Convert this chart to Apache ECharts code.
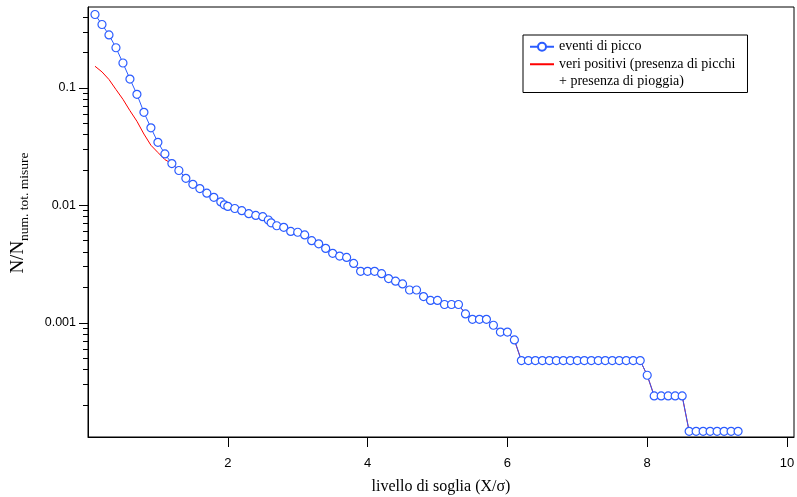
<!DOCTYPE html>
<html><head><meta charset="utf-8">
<script src="https://cdn.jsdelivr.net/npm/echarts@6/dist/echarts.min.js"></script>
<style>html,body{margin:0;padding:0;background:#fff}#c{width:797px;height:497px}</style>
</head><body><div id="c"></div>
<script>
// ---- data ----
const xEventi = [0.1,0.2,0.3,0.4,0.5,0.6,0.7,0.8,0.9,1.0,1.1,1.2,1.3,1.4,1.5,1.6,1.7,1.8,1.9,1.95,
  2.0,2.1,2.2,2.3,2.4,2.5,2.58,2.62,2.7,2.8,2.9,3.0,3.1,3.2,3.3,3.4,3.5,3.6,3.7,3.8,3.9,
  4.0,4.1,4.2,4.3,4.4,4.5,4.6,4.7,4.8,4.9,5.0,5.1,5.2,5.3,5.4,5.5,5.6,5.7,5.8,5.9,
  6.0,6.1,6.2,6.3,6.4,6.5,6.6,6.7,6.8,6.9,7.0,7.1,7.2,7.3,7.4,7.5,7.6,7.7,7.8,7.9,
  8.0,8.1,8.2,8.3,8.4,8.5,8.6,8.7,8.8,8.9,9.0,9.1,9.2,9.3];
const yEventi = [0.422,0.347,0.283,0.220,0.163,0.119,0.0882,0.0620,0.0457,0.0344,0.0274,0.0227,0.0198,0.0170,0.0151,0.0139,0.0127,0.0117,0.0107,0.0101,
  0.0098,0.0094,0.0090,0.0085,0.0082,0.0080,0.0075,0.0071,0.0067,0.0065,0.0060,0.0059,0.0056,0.0050,0.0047,0.0043,0.0039,0.0037,0.0036,0.0032,0.00274,
  0.00274,0.00274,0.00262,0.00238,0.00226,0.00214,0.00190,0.00190,0.00167,0.00155,0.00155,0.00143,0.00143,0.00143,0.00119,0.00107,0.00107,0.00107,0.000952,0.000833,
  0.000833,0.000714,0.000476,0.000476,0.000476,0.000476,0.000476,0.000476,0.000476,0.000476,0.000476,0.000476,0.000476,0.000476,0.000476,0.000476,0.000476,0.000476,0.000476,0.000476,
  0.000357,0.000238,0.000238,0.000238,0.000238,0.000238,0.000119,0.000119,0.000119,0.000119,0.000119,0.000119,0.000119,0.000119];
// veri positivi: distinct values at low threshold, identical to eventi di picco afterwards
const xVeriHead = [0.1,0.2,0.3,0.4,0.5,0.6,0.7,0.8,0.9,1.0,1.1];
const yVeriHead = [0.153,0.137,0.118,0.097,0.080,0.064,0.052,0.0405,0.0325,0.0282,0.0245];
const veriJoinIndex = 11; // from x = 1.2 the two curves coincide

const xTickValues = [2,4,6,8,10];
const yMajorValues = [0.001,0.01,0.1];
const yMinorValues = [0.0002,0.0003,0.0004,0.0005,0.0006,0.0007,0.0008,0.0009,
  0.002,0.003,0.004,0.005,0.006,0.007,0.008,0.009,
  0.02,0.03,0.04,0.05,0.06,0.07,0.08,0.09,0.2,0.3,0.4];

const nameEventi = 'eventi di picco';
const nameVeri = 'veri positivi (presenza di picchi\n+ presenza di pioggia)';

// ---- build ----
const dataEventi = xEventi.map((x,i)=>[x,yEventi[i]]);
const dataVeri = xVeriHead.map((x,i)=>[x,yVeriHead[i]]).concat(dataEventi.slice(veriJoinIndex));

const BLUE = '#2b5cff';
const yMin = 1.064e-4, yMax = 0.489;
const serif = 'Liberation Serif';
const sans = 'Liberation Sans';

const chart = echarts.init(document.getElementById('c'), null, {renderer:'canvas'});
chart.setOption({
  animation:false,
  backgroundColor:'#fff',
  grid:{left:88,right:3,top:7,bottom:60,show:true,borderColor:'#000',borderWidth:1,containLabel:false,outerBoundsMode:'none'},
  legend:{
    orient:'vertical', left:523, top:35,
    backgroundColor:'#fff', borderColor:'#000', borderWidth:1, borderRadius:0,
    padding:[3,12,2,6], itemGap:-17.5, itemWidth:24, itemHeight:10,
    textStyle:{fontFamily:serif,fontSize:14,color:'#000',lineHeight:17.5},
    formatter:function(n){ return n === nameVeri ? '\n' + n : n; },
    data:[{name:nameEventi},{name:nameVeri,itemStyle:{opacity:0}}]
  },
  xAxis:{
    type:'value', min:0, max:10.1,
    name:'livello di soglia (X/σ)', nameLocation:'middle', nameGap:42,
    nameTextStyle:{fontFamily:serif,fontSize:16,color:'#000'},
    axisLine:{show:true,onZero:false,lineStyle:{color:'#000',width:1}},
    axisTick:{show:true,length:10,customValues:xTickValues,lineStyle:{color:'#000'}},
    axisLabel:{customValues:xTickValues,margin:20,fontFamily:sans,fontSize:13,color:'#000'},
    splitLine:{show:false}, minorTick:{show:false}
  },
  yAxis:[{
    type:'log', min:yMin, max:yMax, position:'left',
    name:'{a|N/N}{b|num. tot. misure}', nameLocation:'middle', nameGap:57, nameRotate:90,
    nameTextStyle:{padding:[0,0,0,18],rich:{
      a:{fontFamily:serif,fontSize:19,color:'#000',lineHeight:26},
      b:{fontFamily:serif,fontSize:13.5,color:'#000',lineHeight:13,verticalAlign:'bottom'}
    }},
    axisLine:{show:true,onZero:false,lineStyle:{color:'#000',width:1}},
    axisTick:{show:true,length:9,customValues:yMajorValues,lineStyle:{color:'#000'}},
    axisLabel:{customValues:yMajorValues,margin:12,fontFamily:sans,fontSize:12.5,color:'#000'},
    splitLine:{show:false}, minorTick:{show:false}
  },{
    type:'log', min:yMin, max:yMax, position:'left',
    axisLine:{show:false},
    axisTick:{show:true,length:5,customValues:yMinorValues,lineStyle:{color:'#000'}},
    axisLabel:{show:false}, splitLine:{show:false}
  }],
  series:[{
    name:nameVeri, type:'line', data:dataVeri, yAxisIndex:0, z:2,
    showSymbol:false, symbol:'none',
    lineStyle:{color:'#ff0000',width:1}, itemStyle:{color:'#ff0000'}
  },{
    name:nameEventi, type:'line', data:dataEventi, yAxisIndex:0, z:3,
    symbol:'circle', symbolSize:8, showAllSymbol:true,
    lineStyle:{color:BLUE,width:1},
    itemStyle:{color:'#fff',borderColor:BLUE,borderWidth:1.2}
  }]
});
</script></body></html>
